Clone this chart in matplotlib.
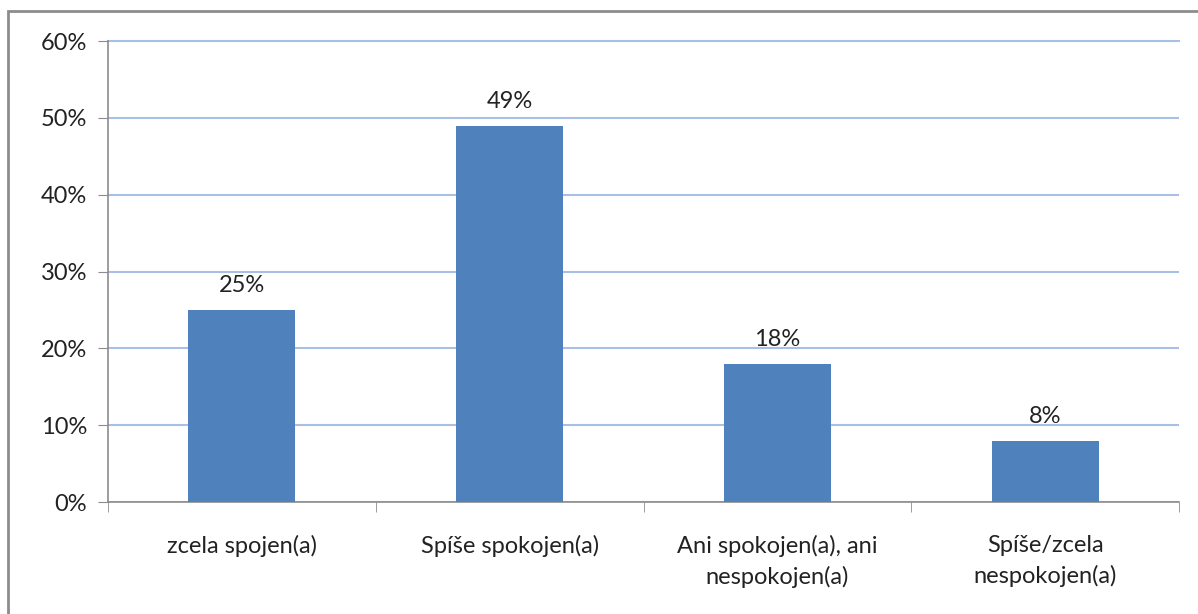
import numpy as np
import matplotlib.pyplot as plt
from matplotlib.patches import Rectangle
from matplotlib.ticker import FixedLocator, PercentFormatter

categories = ['zcela spojen(a)', 'Spíše spokojen(a)', 'Ani spokojen(a), ani\nnespokojen(a)', 'Spíše/zcela\nnespokojen(a)']
values = [25, 49, 18, 8]
yticks = [0, 10, 20, 30, 40, 50, 60]

plt.rcParams['font.family'] = ['Lato', 'DejaVu Sans']
fs = 17

fig = plt.figure(figsize=(11.98, 6.14), dpi=100)
ax = fig.add_axes([0.0902, 0.1824, 0.8939, 0.7508])

# outer chart frame (only left/top visible in the reference)
fig.patches.append(Rectangle((8 / 1198, -0.1), 1.2, 1 - 11 / 614 + 0.1, transform=fig.transFigure,
                             fill=False, edgecolor='#8c8c8c', linewidth=2, zorder=0))

x = np.arange(len(categories))
ax.bar(x, values, width=0.4, color='#4F81BD', zorder=3)
for xi, v in zip(x, values):
    ax.annotate(f'{v}%', (xi, v), xytext=(0, 10), textcoords='offset points',
                ha='center', va='bottom', fontsize=fs, color='#222222')

ax.set_xlim(-0.5, len(categories) - 0.5)
ax.set_ylim(0, 60)
ax.set_yticks(yticks)
ax.yaxis.set_major_formatter(PercentFormatter(decimals=0))
ax.set_xticks(x)
ax.set_xticklabels(categories, fontsize=fs, color='#222222', linespacing=1.45)
ax.xaxis.set_minor_locator(FixedLocator(np.arange(len(categories) + 1) - 0.5))
ax.tick_params(axis='x', which='major', length=0, pad=24)
ax.tick_params(axis='x', which='minor', length=7, color='#8c8c8c', direction='out')
ax.tick_params(axis='y', length=7, color='#8c8c8c', labelsize=fs, labelcolor='#222222', pad=8)

ax.grid(axis='y', color='#A9C0E6', linewidth=1.5, zorder=0)
ax.yaxis.get_gridlines()[-1].set_clip_on(False)
for s in ['top', 'right']:
    ax.spines[s].set_visible(False)
for s in ['left', 'bottom']:
    ax.spines[s].set_color('#8c8c8c')
    ax.spines[s].set_linewidth(1.2)

fig.savefig('out.png', dpi=100)
